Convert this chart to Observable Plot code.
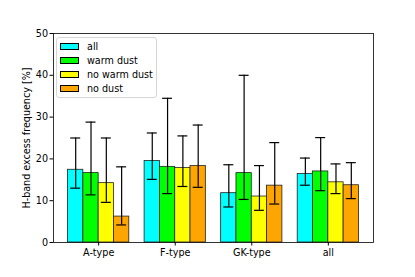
<!DOCTYPE html>
<html>
<head>
<meta charset="utf-8">
<script src="https://cdn.jsdelivr.net/npm/d3@7"></script>
<script src="https://cdn.jsdelivr.net/npm/@observablehq/plot@0.6"></script>
<style>
  html, body { margin: 0; padding: 0; background: #fff; }
  #wrap { position: relative; width: 415px; height: 277px; font-family: "DejaVu Sans", sans-serif; }
  #legend { position: absolute; left: 56px; top: 37px; width: 101px; height: 61px; box-sizing: border-box;
            border: 1px solid #d6d6d6; border-radius: 3px; background: rgba(255,255,255,0.8); }
  .row { position: absolute; left: 0; height: 14px; display: flex; align-items: center; font-size: 9.6px; color: #000; }
  .sw { width: 19px; height: 7px; box-sizing: border-box; border: 0.8px solid #000; margin-left: 3px; margin-right: 8px; }
</style>
</head>
<body>
<div id="wrap"></div>
<script>
const groups = ["A-type", "F-type", "GK-type", "all"];
const series = ["all", "warm dust", "no warm dust", "no dust"];
const colors = ["#00ffff", "#00ff00", "#ffff00", "#ffa500"];

// values per series, in group order
const valAll      = [17.4, 19.5, 11.8, 16.4];
const loAll       = [13.0, 15.1,  8.5, 13.7];
const hiAll       = [25.0, 26.2, 18.6, 20.2];
const valWarm     = [16.6, 18.1, 16.6, 17.0];
const loWarm      = [11.4, 11.7, 10.3, 12.4];
const hiWarm      = [28.8, 34.5, 40.0, 25.1];
const valNoWarm   = [14.2, 17.8, 11.0, 14.4];
const loNoWarm    = [ 9.6, 13.4,  7.7, 11.7];
const hiNoWarm    = [25.0, 25.5, 18.4, 18.8];
const valNoDust   = [ 6.2, 18.3, 13.6, 13.7];
const loNoDust    = [ 4.2, 13.2,  9.2, 10.5];
const hiNoDust    = [18.1, 28.1, 23.9, 19.1];
const yTicks = [0, 10, 20, 30, 40, 50];

const vals = [valAll, valWarm, valNoWarm, valNoDust];
const los = [loAll, loWarm, loNoWarm, loNoDust];
const his = [hiAll, hiWarm, hiNoWarm, hiNoDust];

const barW = 0.2, cap = 0.065;
const rows = [];
groups.forEach((g, gi) => {
  series.forEach((s, si) => {
    rows.push({ group: g, series: s, x: gi + (si - 1.5) * barW,
                value: vals[si][gi], lo: los[si][gi], hi: his[si][gi] });
  });
});

const plot = Plot.plot({
  width: 415,
  height: 277,
  marginLeft: 53,
  marginRight: 42,
  marginTop: 33,
  marginBottom: 35,
  style: { fontFamily: "DejaVu Sans, sans-serif", fontSize: "9.6px", background: "#fff", color: "#000" },
  x: { type: "linear", domain: [-0.59, 3.59] },
  y: { domain: [0, 50] },
  color: { domain: series, range: colors },
  marks: [
    Plot.rect(rows, { x1: d => d.x - barW / 2, x2: d => d.x + barW / 2, y1: 0, y2: "value",
                      fill: "series", stroke: "#222", strokeWidth: 0.8 }),
    Plot.ruleX(rows, { x: "x", y1: "lo", y2: "hi", stroke: "#000", strokeWidth: 1.2 }),
    Plot.ruleY(rows, { y: "lo", x1: d => d.x - cap, x2: d => d.x + cap, stroke: "#000", strokeWidth: 1.2 }),
    Plot.ruleY(rows, { y: "hi", x1: d => d.x - cap, x2: d => d.x + cap, stroke: "#000", strokeWidth: 1.2 }),
    Plot.axisY({ ticks: yTicks, tickSize: 3.5, tickPadding: 2, label: "H-band excess frequency [%]",
                 labelAnchor: "center", labelArrow: "none", labelOffset: 30, fontSize: "9.6px" }),
    Plot.axisX({ ticks: [0, 1, 2, 3], tickFormat: i => groups[i], tickSize: 3.5, tickPadding: 3,
                 label: null, fontSize: "9.6px" }),
    Plot.frame({ stroke: "#000", strokeWidth: 0.8 })
  ]
});

const wrap = document.getElementById("wrap");
wrap.appendChild(plot);

const legend = document.createElement("div");
legend.id = "legend";
series.forEach((s, i) => {
  const r = document.createElement("div");
  r.className = "row";
  r.style.top = (1.5 + i * 14) + "px";
  const sw = document.createElement("div");
  sw.className = "sw";
  sw.style.background = colors[i];
  const t = document.createElement("span");
  t.textContent = s;
  r.appendChild(sw);
  r.appendChild(t);
  legend.appendChild(r);
});
wrap.appendChild(legend);
</script>
</body>
</html>
